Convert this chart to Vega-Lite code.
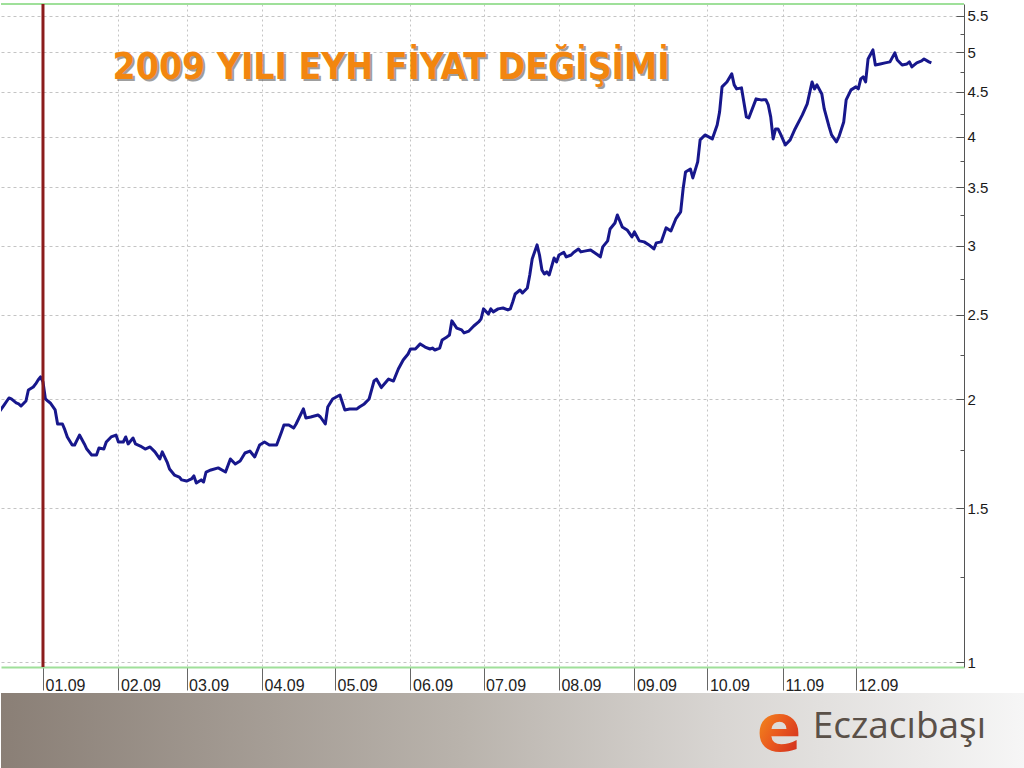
{
  "$schema": "https://vega.github.io/schema/vega-lite/v6.json",
  "padding": {"left": 0, "top": 2, "right": 0, "bottom": 0},
  "background": "white",
  "spacing": 0,
  "config": {"view": {"stroke": null}, "font": "Liberation Sans"},
  "datasets": {
    "eyh": [
      {"tarih": "2008-12-14", "fiyat": 1.934},
      {"tarih": "2008-12-16", "fiyat": 1.970},
      {"tarih": "2008-12-18", "fiyat": 2.007},
      {"tarih": "2008-12-19", "fiyat": 2.002},
      {"tarih": "2008-12-21", "fiyat": 1.981},
      {"tarih": "2008-12-22", "fiyat": 1.976},
      {"tarih": "2008-12-23", "fiyat": 1.965},
      {"tarih": "2008-12-25", "fiyat": 1.991},
      {"tarih": "2008-12-26", "fiyat": 2.050},
      {"tarih": "2008-12-28", "fiyat": 2.066},
      {"tarih": "2008-12-29", "fiyat": 2.083},
      {"tarih": "2008-12-30", "fiyat": 2.105},
      {"tarih": "2008-12-31", "fiyat": 2.122},
      {"tarih": "2009-01-01", "fiyat": 2.094},
      {"tarih": "2009-01-02", "fiyat": 2.002},
      {"tarih": "2009-01-03", "fiyat": 1.991},
      {"tarih": "2009-01-04", "fiyat": 1.981},
      {"tarih": "2009-01-06", "fiyat": 1.945},
      {"tarih": "2009-01-07", "fiyat": 1.874},
      {"tarih": "2009-01-09", "fiyat": 1.874},
      {"tarih": "2009-01-10", "fiyat": 1.845},
      {"tarih": "2009-01-11", "fiyat": 1.811},
      {"tarih": "2009-01-13", "fiyat": 1.773},
      {"tarih": "2009-01-14", "fiyat": 1.773},
      {"tarih": "2009-01-16", "fiyat": 1.820},
      {"tarih": "2009-01-18", "fiyat": 1.778},
      {"tarih": "2009-01-19", "fiyat": 1.754},
      {"tarih": "2009-01-21", "fiyat": 1.727},
      {"tarih": "2009-01-23", "fiyat": 1.727},
      {"tarih": "2009-01-24", "fiyat": 1.759},
      {"tarih": "2009-01-26", "fiyat": 1.754},
      {"tarih": "2009-01-27", "fiyat": 1.787},
      {"tarih": "2009-01-29", "fiyat": 1.811},
      {"tarih": "2009-01-31", "fiyat": 1.820},
      {"tarih": "2009-02-01", "fiyat": 1.787},
      {"tarih": "2009-02-03", "fiyat": 1.787},
      {"tarih": "2009-02-04", "fiyat": 1.811},
      {"tarih": "2009-02-05", "fiyat": 1.778},
      {"tarih": "2009-02-07", "fiyat": 1.806},
      {"tarih": "2009-02-08", "fiyat": 1.778},
      {"tarih": "2009-02-10", "fiyat": 1.768},
      {"tarih": "2009-02-12", "fiyat": 1.754},
      {"tarih": "2009-02-14", "fiyat": 1.764},
      {"tarih": "2009-02-16", "fiyat": 1.741},
      {"tarih": "2009-02-18", "fiyat": 1.709},
      {"tarih": "2009-02-19", "fiyat": 1.741},
      {"tarih": "2009-02-21", "fiyat": 1.695},
      {"tarih": "2009-02-22", "fiyat": 1.664},
      {"tarih": "2009-02-24", "fiyat": 1.638},
      {"tarih": "2009-02-26", "fiyat": 1.629},
      {"tarih": "2009-02-27", "fiyat": 1.617},
      {"tarih": "2009-03-01", "fiyat": 1.612},
      {"tarih": "2009-03-03", "fiyat": 1.621},
      {"tarih": "2009-03-04", "fiyat": 1.634},
      {"tarih": "2009-03-05", "fiyat": 1.604},
      {"tarih": "2009-03-07", "fiyat": 1.617},
      {"tarih": "2009-03-08", "fiyat": 1.608},
      {"tarih": "2009-03-09", "fiyat": 1.651},
      {"tarih": "2009-03-11", "fiyat": 1.660},
      {"tarih": "2009-03-14", "fiyat": 1.669},
      {"tarih": "2009-03-17", "fiyat": 1.651},
      {"tarih": "2009-03-19", "fiyat": 1.709},
      {"tarih": "2009-03-21", "fiyat": 1.686},
      {"tarih": "2009-03-23", "fiyat": 1.700},
      {"tarih": "2009-03-25", "fiyat": 1.736},
      {"tarih": "2009-03-27", "fiyat": 1.745},
      {"tarih": "2009-03-29", "fiyat": 1.718},
      {"tarih": "2009-03-31", "fiyat": 1.773},
      {"tarih": "2009-04-02", "fiyat": 1.787},
      {"tarih": "2009-04-04", "fiyat": 1.773},
      {"tarih": "2009-04-07", "fiyat": 1.773},
      {"tarih": "2009-04-09", "fiyat": 1.835},
      {"tarih": "2009-04-10", "fiyat": 1.869},
      {"tarih": "2009-04-12", "fiyat": 1.869},
      {"tarih": "2009-04-14", "fiyat": 1.854},
      {"tarih": "2009-04-15", "fiyat": 1.874},
      {"tarih": "2009-04-18", "fiyat": 1.950},
      {"tarih": "2009-04-19", "fiyat": 1.904},
      {"tarih": "2009-04-21", "fiyat": 1.909},
      {"tarih": "2009-04-24", "fiyat": 1.919},
      {"tarih": "2009-04-25", "fiyat": 1.909},
      {"tarih": "2009-04-27", "fiyat": 1.874},
      {"tarih": "2009-04-28", "fiyat": 1.960},
      {"tarih": "2009-04-30", "fiyat": 2.002},
      {"tarih": "2009-05-03", "fiyat": 2.023},
      {"tarih": "2009-05-05", "fiyat": 1.945},
      {"tarih": "2009-05-07", "fiyat": 1.950},
      {"tarih": "2009-05-10", "fiyat": 1.950},
      {"tarih": "2009-05-11", "fiyat": 1.960},
      {"tarih": "2009-05-13", "fiyat": 1.976},
      {"tarih": "2009-05-15", "fiyat": 2.002},
      {"tarih": "2009-05-17", "fiyat": 2.099},
      {"tarih": "2009-05-18", "fiyat": 2.110},
      {"tarih": "2009-05-20", "fiyat": 2.063},
      {"tarih": "2009-05-23", "fiyat": 2.110},
      {"tarih": "2009-05-25", "fiyat": 2.099},
      {"tarih": "2009-05-27", "fiyat": 2.167},
      {"tarih": "2009-05-29", "fiyat": 2.219},
      {"tarih": "2009-05-31", "fiyat": 2.254},
      {"tarih": "2009-06-01", "fiyat": 2.284},
      {"tarih": "2009-06-03", "fiyat": 2.284},
      {"tarih": "2009-06-05", "fiyat": 2.315},
      {"tarih": "2009-06-07", "fiyat": 2.296},
      {"tarih": "2009-06-09", "fiyat": 2.284},
      {"tarih": "2009-06-10", "fiyat": 2.290},
      {"tarih": "2009-06-11", "fiyat": 2.278},
      {"tarih": "2009-06-13", "fiyat": 2.290},
      {"tarih": "2009-06-14", "fiyat": 2.339},
      {"tarih": "2009-06-16", "fiyat": 2.358},
      {"tarih": "2009-06-17", "fiyat": 2.370},
      {"tarih": "2009-06-18", "fiyat": 2.460},
      {"tarih": "2009-06-20", "fiyat": 2.414},
      {"tarih": "2009-06-22", "fiyat": 2.402},
      {"tarih": "2009-06-23", "fiyat": 2.383},
      {"tarih": "2009-06-25", "fiyat": 2.395},
      {"tarih": "2009-06-27", "fiyat": 2.427},
      {"tarih": "2009-06-29", "fiyat": 2.453},
      {"tarih": "2009-06-30", "fiyat": 2.473},
      {"tarih": "2009-07-01", "fiyat": 2.539},
      {"tarih": "2009-07-03", "fiyat": 2.505},
      {"tarih": "2009-07-04", "fiyat": 2.539},
      {"tarih": "2009-07-05", "fiyat": 2.519},
      {"tarih": "2009-07-07", "fiyat": 2.539},
      {"tarih": "2009-07-09", "fiyat": 2.545},
      {"tarih": "2009-07-11", "fiyat": 2.532},
      {"tarih": "2009-07-12", "fiyat": 2.539},
      {"tarih": "2009-07-13", "fiyat": 2.586},
      {"tarih": "2009-07-14", "fiyat": 2.641},
      {"tarih": "2009-07-16", "fiyat": 2.669},
      {"tarih": "2009-07-17", "fiyat": 2.648},
      {"tarih": "2009-07-19", "fiyat": 2.683},
      {"tarih": "2009-07-20", "fiyat": 2.777},
      {"tarih": "2009-07-21", "fiyat": 2.897},
      {"tarih": "2009-07-23", "fiyat": 3.006},
      {"tarih": "2009-07-24", "fiyat": 2.927},
      {"tarih": "2009-07-25", "fiyat": 2.814},
      {"tarih": "2009-07-26", "fiyat": 2.784},
      {"tarih": "2009-07-27", "fiyat": 2.799},
      {"tarih": "2009-07-28", "fiyat": 2.777},
      {"tarih": "2009-07-30", "fiyat": 2.904},
      {"tarih": "2009-07-31", "fiyat": 2.874},
      {"tarih": "2009-08-01", "fiyat": 2.927},
      {"tarih": "2009-08-03", "fiyat": 2.947},
      {"tarih": "2009-08-04", "fiyat": 2.912},
      {"tarih": "2009-08-06", "fiyat": 2.927},
      {"tarih": "2009-08-07", "fiyat": 2.947},
      {"tarih": "2009-08-09", "fiyat": 2.974},
      {"tarih": "2009-08-10", "fiyat": 2.951},
      {"tarih": "2009-08-12", "fiyat": 2.959},
      {"tarih": "2009-08-14", "fiyat": 2.966},
      {"tarih": "2009-08-17", "fiyat": 2.927},
      {"tarih": "2009-08-18", "fiyat": 2.912},
      {"tarih": "2009-08-19", "fiyat": 2.990},
      {"tarih": "2009-08-21", "fiyat": 3.038},
      {"tarih": "2009-08-22", "fiyat": 3.135},
      {"tarih": "2009-08-24", "fiyat": 3.185},
      {"tarih": "2009-08-25", "fiyat": 3.253},
      {"tarih": "2009-08-27", "fiyat": 3.152},
      {"tarih": "2009-08-29", "fiyat": 3.127},
      {"tarih": "2009-08-31", "fiyat": 3.070},
      {"tarih": "2009-09-01", "fiyat": 3.111},
      {"tarih": "2009-09-03", "fiyat": 3.038},
      {"tarih": "2009-09-05", "fiyat": 3.030},
      {"tarih": "2009-09-07", "fiyat": 3.006},
      {"tarih": "2009-09-09", "fiyat": 2.974},
      {"tarih": "2009-09-10", "fiyat": 3.022},
      {"tarih": "2009-09-12", "fiyat": 3.030},
      {"tarih": "2009-09-14", "fiyat": 3.144},
      {"tarih": "2009-09-16", "fiyat": 3.119},
      {"tarih": "2009-09-18", "fiyat": 3.219},
      {"tarih": "2009-09-20", "fiyat": 3.279},
      {"tarih": "2009-09-21", "fiyat": 3.484},
      {"tarih": "2009-09-22", "fiyat": 3.644},
      {"tarih": "2009-09-24", "fiyat": 3.673},
      {"tarih": "2009-09-25", "fiyat": 3.587},
      {"tarih": "2009-09-27", "fiyat": 3.742},
      {"tarih": "2009-09-28", "fiyat": 3.966},
      {"tarih": "2009-09-30", "fiyat": 4.018},
      {"tarih": "2009-10-03", "fiyat": 3.976},
      {"tarih": "2009-10-05", "fiyat": 4.125},
      {"tarih": "2009-10-06", "fiyat": 4.270},
      {"tarih": "2009-10-07", "fiyat": 4.561},
      {"tarih": "2009-10-09", "fiyat": 4.621},
      {"tarih": "2009-10-11", "fiyat": 4.720},
      {"tarih": "2009-10-12", "fiyat": 4.585},
      {"tarih": "2009-10-13", "fiyat": 4.537},
      {"tarih": "2009-10-15", "fiyat": 4.549},
      {"tarih": "2009-10-17", "fiyat": 4.214},
      {"tarih": "2009-10-18", "fiyat": 4.202},
      {"tarih": "2009-10-21", "fiyat": 4.419},
      {"tarih": "2009-10-23", "fiyat": 4.407},
      {"tarih": "2009-10-25", "fiyat": 4.410},
      {"tarih": "2009-10-26", "fiyat": 4.349},
      {"tarih": "2009-10-27", "fiyat": 4.214},
      {"tarih": "2009-10-28", "fiyat": 3.976},
      {"tarih": "2009-10-29", "fiyat": 4.082},
      {"tarih": "2009-10-30", "fiyat": 4.082},
      {"tarih": "2009-10-31", "fiyat": 4.029},
      {"tarih": "2009-11-02", "fiyat": 3.913},
      {"tarih": "2009-11-04", "fiyat": 3.966},
      {"tarih": "2009-11-06", "fiyat": 4.082},
      {"tarih": "2009-11-09", "fiyat": 4.236},
      {"tarih": "2009-11-11", "fiyat": 4.361},
      {"tarih": "2009-11-13", "fiyat": 4.621},
      {"tarih": "2009-11-14", "fiyat": 4.537},
      {"tarih": "2009-11-15", "fiyat": 4.585},
      {"tarih": "2009-11-17", "fiyat": 4.476},
      {"tarih": "2009-11-18", "fiyat": 4.303},
      {"tarih": "2009-11-20", "fiyat": 4.104},
      {"tarih": "2009-11-21", "fiyat": 4.018},
      {"tarih": "2009-11-23", "fiyat": 3.945},
      {"tarih": "2009-11-24", "fiyat": 3.997},
      {"tarih": "2009-11-26", "fiyat": 4.158},
      {"tarih": "2009-11-27", "fiyat": 4.407},
      {"tarih": "2009-11-29", "fiyat": 4.525},
      {"tarih": "2009-12-01", "fiyat": 4.561},
      {"tarih": "2009-12-02", "fiyat": 4.537},
      {"tarih": "2009-12-03", "fiyat": 4.658},
      {"tarih": "2009-12-04", "fiyat": 4.683},
      {"tarih": "2009-12-05", "fiyat": 4.621},
      {"tarih": "2009-12-06", "fiyat": 4.910},
      {"tarih": "2009-12-08", "fiyat": 5.028},
      {"tarih": "2009-12-09", "fiyat": 4.833},
      {"tarih": "2009-12-11", "fiyat": 4.846},
      {"tarih": "2009-12-13", "fiyat": 4.859},
      {"tarih": "2009-12-15", "fiyat": 4.872},
      {"tarih": "2009-12-17", "fiyat": 4.989},
      {"tarih": "2009-12-18", "fiyat": 4.897},
      {"tarih": "2009-12-20", "fiyat": 4.833},
      {"tarih": "2009-12-22", "fiyat": 4.846},
      {"tarih": "2009-12-23", "fiyat": 4.872},
      {"tarih": "2009-12-24", "fiyat": 4.808},
      {"tarih": "2009-12-26", "fiyat": 4.859},
      {"tarih": "2009-12-28", "fiyat": 4.884},
      {"tarih": "2009-12-29", "fiyat": 4.910},
      {"tarih": "2009-12-31", "fiyat": 4.872},
      {"tarih": "2010-01-01", "fiyat": 4.859}
    ]
  },
  "vconcat": [
    {
      "width": 963,
      "height": 663,
      "view": {"stroke": null},
      "layer": [
        {
          "data": {"name": "eyh"},
          "mark": {"type": "line", "color": "#17178c", "strokeWidth": 3, "clip": true, "strokeJoin": "round"},
          "encoding": {
            "x": {
              "field": "tarih",
              "type": "temporal",
              "scale": {
                "type": "utc",
                "domain": [
                  {"year": 2008, "month": 12, "date": 14, "hours": 18, "utc": true},
                  {"year": 2010, "month": 1, "date": 14, "hours": 10, "utc": true}
                ]
              },
              "axis": {
                "title": null,
                "orient": "bottom",
                "values": [
                  {"year": 2009, "month": 1, "date": 1, "utc": true},
                  {"year": 2009, "month": 2, "date": 1, "utc": true},
                  {"year": 2009, "month": 3, "date": 1, "utc": true},
                  {"year": 2009, "month": 4, "date": 1, "utc": true},
                  {"year": 2009, "month": 5, "date": 1, "utc": true},
                  {"year": 2009, "month": 6, "date": 1, "utc": true},
                  {"year": 2009, "month": 7, "date": 1, "utc": true},
                  {"year": 2009, "month": 8, "date": 1, "utc": true},
                  {"year": 2009, "month": 9, "date": 1, "utc": true},
                  {"year": 2009, "month": 10, "date": 1, "utc": true},
                  {"year": 2009, "month": 11, "date": 1, "utc": true},
                  {"year": 2009, "month": 12, "date": 1, "utc": true}
                ],
                "format": "%m.%y",
                "labelAlign": "left",
                "labelOffset": 2,
                "labelPadding": -13,
                "labelFlush": false,
                "labelOverlap": false,
                "tickSize": 23,
                "tickColor": "#666666",
                "domain": true,
                "domainColor": "#9fe09a",
                "domainWidth": 2,
                "grid": true,
                "gridColor": "#c4c4c4",
                "gridDash": [2, 3],
                "labelFont": "Liberation Sans",
                "labelFontSize": 16,
                "labelColor": "#222222"
              }
            },
            "y": {
              "field": "fiyat",
              "type": "quantitative",
              "scale": {"type": "log", "domain": [0.987, 5.676], "nice": false, "zero": false},
              "axis": {
                "title": null,
                "orient": "right",
                "values": [1, 1.25, 1.5, 1.75, 2, 2.25, 2.5, 2.75, 3, 3.25, 3.5, 3.75, 4, 4.25, 4.5, 4.75, 5, 5.25, 5.5],
                "labelExpr": "abs(datum.value*2-round(datum.value*2)) < 0.01 ? format(datum.value, '~g') : ''",
                "tickSize": {"condition": {"test": "abs(datum.value*2-round(datum.value*2)) > 0.01", "value": -4}, "value": -8},
                "labelPadding": 11,
                "labelFlush": false,
                "labelOverlap": false,
                "grid": true,
                "gridOpacity": {"condition": {"test": "abs(datum.value*2-round(datum.value*2)) > 0.01", "value": 0}, "value": 1},
                "gridColor": "#c4c4c4",
                "gridDash": [3, 3],
                "domainColor": "#555555",
                "tickColor": "#555555",
                "labelFont": "Liberation Sans",
                "labelFontSize": 15,
                "labelColor": "#1a1a1a"
              }
            }
          }
        },
        {
          "data": {"values": [{}]},
          "mark": {"type": "rule", "color": "#9fe09a", "strokeWidth": 2},
          "encoding": {
            "y": {"datum": 5.676, "type": "quantitative"}
          }
        },
        {
          "data": {"values": [{}]},
          "mark": {"type": "rule", "color": "#8b1c1c", "strokeWidth": 3},
          "encoding": {
            "x": {"datum": {"year": 2009, "month": 1, "date": 1, "utc": true}, "type": "temporal"}
          }
        },
        {
          "data": {"values": [{}]},
          "mark": {
            "type": "text",
            "text": "2009 YILI EYH FİYAT DEĞİŞİMİ",
            "font": "DejaVu Sans Condensed, DejaVu Sans",
            "fontWeight": "bold",
            "fontSize": 37,
            "color": "#6b6b6b",
            "opacity": 0.65,
            "dx": 2,
            "dy": 2,
            "align": "center",
            "baseline": "middle"
          },
          "encoding": {
            "x": {"datum": {"year": 2009, "month": 5, "date": 24, "utc": true}, "type": "temporal"},
            "y": {"datum": 4.8, "type": "quantitative"}
          }
        },
        {
          "data": {"values": [{}]},
          "mark": {
            "type": "text",
            "text": "2009 YILI EYH FİYAT DEĞİŞİMİ",
            "font": "DejaVu Sans Condensed, DejaVu Sans",
            "fontWeight": "bold",
            "fontSize": 37,
            "color": "#f2860f",
            "align": "center",
            "baseline": "middle"
          },
          "encoding": {
            "x": {"datum": {"year": 2009, "month": 5, "date": 24, "utc": true}, "type": "temporal"},
            "y": {"datum": 4.8, "type": "quantitative"}
          }
        }
      ]
    },
    {
      "width": 1024,
      "height": 78,
      "view": {
        "stroke": null,
        "fill": {
          "gradient": "linear",
          "x1": 0, "y1": 0, "x2": 1, "y2": 0,
          "stops": [
            {"offset": 0, "color": "#8a7f76"},
            {"offset": 0.45, "color": "#b9b3ac"},
            {"offset": 0.7, "color": "#d8d5d2"},
            {"offset": 1, "color": "#f6f6f6"}
          ]
        }
      },
      "data": {"values": [{}]},
      "layer": [
        {
          "mark": {
            "type": "text",
            "text": "e",
            "font": "DejaVu Sans",
            "fontWeight": "bold",
            "fontSize": 66,
            "align": "center",
            "baseline": "alphabetic",
            "color": {
              "gradient": "linear",
              "x1": 0, "y1": 0, "x2": 1, "y2": 1,
              "stops": [
                {"offset": 0, "color": "#f6a11c"},
                {"offset": 0.5, "color": "#ea5a1e"},
                {"offset": 1, "color": "#c81e1e"}
              ]
            }
          },
          "encoding": {
            "x": {"datum": 0.76, "type": "quantitative", "scale": {"domain": [0, 1]}, "axis": null},
            "y": {"datum": 0.74, "type": "quantitative", "scale": {"domain": [0, 1], "reverse": true}, "axis": null}
          }
        },
        {
          "mark": {
            "type": "text",
            "text": "Eczacıbaşı",
            "font": "Open Sans",
            "fontSize": 37,
            "align": "right",
            "baseline": "alphabetic",
            "color": "#5a5048"
          },
          "encoding": {
            "x": {"datum": 0.962, "type": "quantitative", "scale": {"domain": [0, 1]}, "axis": null},
            "y": {"datum": 0.58, "type": "quantitative", "scale": {"domain": [0, 1], "reverse": true}, "axis": null}
          }
        }
      ]
    }
  ]
}
